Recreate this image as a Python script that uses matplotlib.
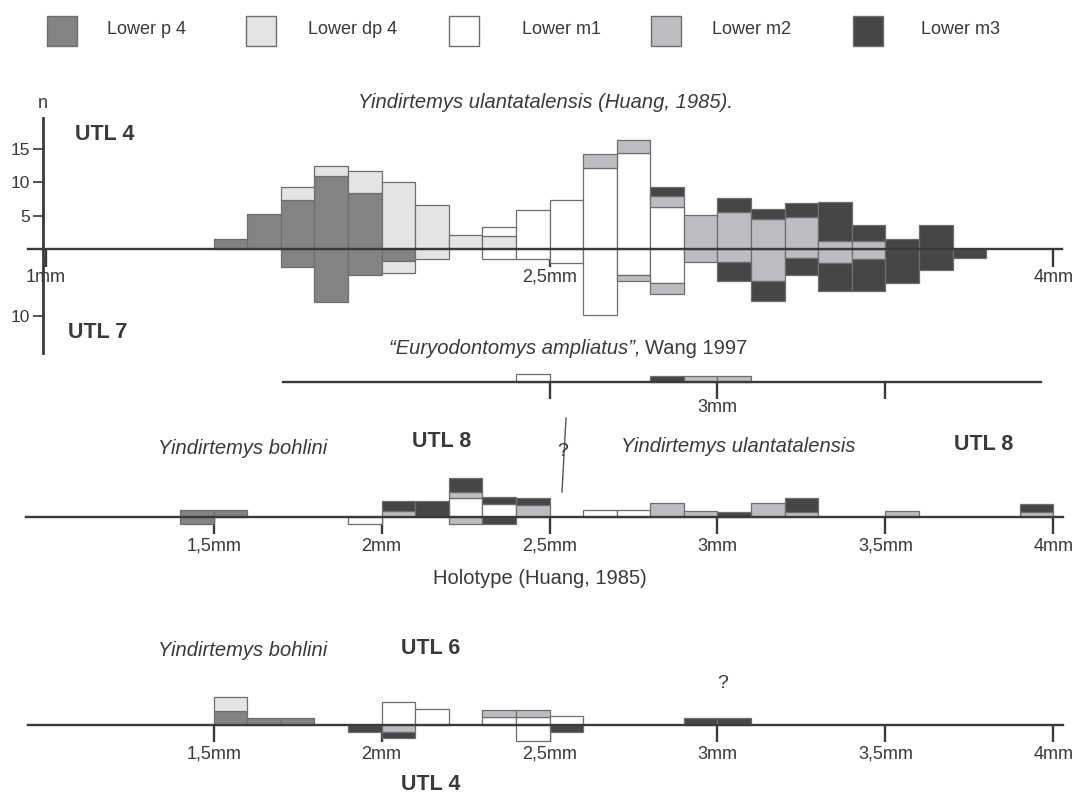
import matplotlib
matplotlib.use('Agg')
import matplotlib.pyplot as plt
from matplotlib.lines import Line2D

plt.rcParams['font.family'] = ['Liberation Sans', 'DejaVu Sans']

#---------------------DATA------------------------
teeth = ['Lower p 4', 'Lower dp 4', 'Lower m1', 'Lower m2', 'Lower m3']
tooth_colors = ['#838385', '#e3e4e6', '#ffffff', '#bcbdc0', '#464648']

# Y. ulantatalensis, UTL 4 (up) and UTL 7 (down), left edge of 0.1 mm classes
bins_a = [1.5, 1.6, 1.7, 1.8, 1.9, 2.0, 2.1, 2.2, 2.3, 2.4, 2.5, 2.6,
          2.7, 2.8, 2.9, 3.0, 3.1, 3.2, 3.3, 3.4, 3.5, 3.6, 3.7]
utl4_p4 = [1.6, 5.3, 7.4, 11.0, 8.4, 0, 0, 0, 0, 0, 0, 0, 0, 0, 0, 0, 0, 0, 0, 0, 0, 0, 0]
utl4_dp4 = [0, 0, 1.9, 1.4, 3.3, 10.0, 6.6, 2.1, 2.0, 0, 0, 0, 0, 0, 0, 0, 0, 0, 0, 0, 0, 0, 0]
utl4_m1 = [0, 0, 0, 0, 0, 0, 0, 0, 1.4, 5.9, 7.4, 12.2, 14.4, 6.3, 0, 0, 0, 0, 0, 0, 0, 0, 0]
utl4_m2 = [0, 0, 0, 0, 0, 0, 0, 0, 0, 0, 0, 2.0, 1.9, 1.6, 5.1, 5.5, 4.5, 4.8, 1.2, 1.2, 0, 0, 0]
utl4_m3 = [0, 0, 0, 0, 0, 0, 0, 0, 0, 0, 0, 0, 0, 1.4, 0, 2.1, 1.5, 2.1, 5.8, 2.5, 1.5, 3.7, 0]

utl7_p4 = [0, 0, 2.6, 7.8, 3.8, 1.75, 0, 0, 0, 0, 0, 0, 0, 0, 0, 0, 0, 0, 0, 0, 0, 0, 0]
utl7_dp4 = [0, 0, 0, 0, 0, 1.85, 1.5, 0, 0, 0, 0, 0, 0, 0, 0, 0, 0, 0, 0, 0, 0, 0, 0]
utl7_m1 = [0, 0, 0, 0, 0, 0, 0, 0, 1.5, 1.5, 2.0, 9.8, 3.8, 5.0, 0, 0, 0, 0, 0, 0, 0, 0, 0]
utl7_m2 = [0, 0, 0, 0, 0, 0, 0, 0, 0, 0, 0, 0, 1.0, 1.7, 1.85, 1.85, 4.8, 1.35, 2.0, 1.45, 0, 0, 0]
utl7_m3 = [0, 0, 0, 0, 0, 0, 0, 0, 0, 0, 0, 0, 0, 0, 0, 2.95, 2.9, 2.45, 4.2, 4.75, 5.1, 3.1, 1.25]

# "Euryodontomys ampliatus", Wang 1997
bins_b = [2.4, 2.8, 2.9, 3.0]
wang_p4 = [0, 0, 0, 0]
wang_dp4 = [0, 0, 0, 0]
wang_m1 = [1.1, 0, 0, 0]
wang_m2 = [0, 0, 0.8, 0.8]
wang_m3 = [0, 0.8, 0, 0]

# UTL 8 (up) and holotype side (down)
bins_c = [1.4, 1.5, 1.9, 2.0, 2.1, 2.2, 2.3, 2.4, 2.6, 2.7, 2.8, 2.9, 3.0, 3.1, 3.2, 3.5, 3.9]
utl8_p4 = [1, 1, 0, 0, 0, 0, 0, 0, 0, 0, 0, 0, 0, 0, 0, 0, 0]
utl8_dp4 = [0, 0, 0, 0, 0, 0, 0, 0, 0, 0, 0, 0, 0, 0, 0, 0, 0]
utl8_m1 = [0, 0, 0, 0, 0, 2.6, 1.8, 0, 1.0, 1.0, 0, 0, 0, 0, 0, 0, 0]
utl8_m2 = [0, 0, 0, 0.8, 0, 0.8, 0, 1.6, 0, 0, 1.9, 0.8, 0, 1.9, 0.65, 0.8, 0.65]
utl8_m3 = [0, 0, 0, 1.3, 2.2, 1.9, 0.9, 1.0, 0, 0, 0, 0, 0.65, 0, 1.95, 0, 1.1]
holo_p4 = [1, 0, 0, 0, 0, 0, 0, 0, 0, 0, 0, 0, 0, 0, 0, 0, 0]
holo_dp4 = [0, 0, 0, 0, 0, 0, 0, 0, 0, 0, 0, 0, 0, 0, 0, 0, 0]
holo_m1 = [0, 0, 1.0, 0, 0, 0, 0, 0, 0, 0, 0, 0, 0, 0, 0, 0, 0]
holo_m2 = [0, 0, 0, 0, 0, 0.9, 0, 0, 0, 0, 0, 0, 0, 0, 0, 0, 0]
holo_m3 = [0, 0, 0, 0, 0, 0, 1.0, 0, 0, 0, 0, 0, 0, 0, 0, 0, 0]

# UTL 6 (up) and UTL 4 (down)
bins_d = [1.5, 1.6, 1.7, 1.9, 2.0, 2.1, 2.3, 2.4, 2.5, 2.9, 3.0]
utl6_p4 = [1.9, 1.0, 1.0, 0, 0, 0, 0, 0, 0, 0, 0]
utl6_dp4 = [1.9, 0, 0, 0, 0, 0, 0, 0, 0, 0, 0]
utl6_m1 = [0, 0, 0, 0, 3.1, 2.2, 1.1, 1.1, 1.2, 0, 0]
utl6_m2 = [0, 0, 0, 0, 0, 0, 0.9, 0.9, 0, 0, 0]
utl6_m3 = [0, 0, 0, 0, 0, 0, 0, 0, 0, 1.0, 1.0]
utl4b_p4 = [0, 0, 0, 0, 0, 0, 0, 0, 0, 0, 0]
utl4b_dp4 = [0, 0, 0, 0, 0, 0, 0, 0, 0, 0, 0]
utl4b_m1 = [0, 0, 0, 0, 0, 0, 0, 2.1, 0, 0, 0]
utl4b_m2 = [0, 0, 0, 0, 1.0, 0, 0, 0, 0, 0, 0]
utl4b_m3 = [0, 0, 0, 1.0, 0.8, 0, 0, 0, 1.0, 0, 0]
#-------------------------------------------------

W, H = 1083, 796
TXT = '#3a3a3a'
LINE = '#3a3a3a'
EDGE = '#6e6e6e'
# px position of 1mm and px per mm (same scale in all panels)
PX1, PXMM = 45.7, 335.9


def px2mm(x):
    return 1 + (x - PX1) / PXMM


fig = plt.figure(figsize=(W / 100, H / 100), dpi=100)


def panel(top, bottom, base, unit, xa, xb):
    ax = fig.add_axes([0, 1 - bottom / H, 1, (bottom - top) / H])
    ax.set_xlim(px2mm(0), px2mm(W))
    ax.set_ylim(-(bottom - base) / unit, (base - top) / unit)
    ax.patch.set_visible(False)
    for s in ['top', 'right', 'left']:
        ax.spines[s].set_visible(False)
    ax.spines['bottom'].set_position(('data', 0))
    ax.spines['bottom'].set_bounds(px2mm(xa), px2mm(xb))
    ax.spines['bottom'].set_linewidth(1.7)
    ax.spines['bottom'].set_color(LINE)
    ax.spines['bottom'].set_zorder(5)
    ax.set_yticks([])
    ax.tick_params(axis='x', direction='out', length=12, width=1.7, color=LINE,
                   labelsize=13, labelcolor=TXT, pad=3)
    return ax


def stack(ax, bins, series, sign):
    acc = [0.0] * len(bins)
    for vals, c in zip(series, tooth_colors):
        xs = [b for b, v in zip(bins, vals) if v > 0]
        hs = [sign * v for v in vals if v > 0]
        bs = [sign * a for a, v in zip(acc, vals) if v > 0]
        if xs:
            ax.bar(xs, hs, width=0.1, bottom=bs, align='edge', color=c,
                   edgecolor=EDGE, linewidth=0.9, zorder=2)
        acc = [a + v for a, v in zip(acc, vals)]


def ftext(x, y, s, **kw):
    kw.setdefault('color', TXT)
    kw.setdefault('ha', 'center')
    kw.setdefault('va', 'center')
    fig.text(x / W, 1 - y / H, s, **kw)


# ---- legend ----
lax = fig.add_axes([0, 1 - 70 / H, 1, 70 / H])
lax.set_xlim(0, W)
lax.set_ylim(70, 0)
lax.axis('off')
swatch_x = [47, 246, 449, 651, 853]
label_x = [107, 308, 522, 712, 921]
for sx, lx, name, c in zip(swatch_x, label_x, teeth, tooth_colors):
    lax.bar(sx, 30, width=30, bottom=16, align='edge', color=c,
            edgecolor=EDGE, linewidth=1.0)
    lax.text(lx, 30, name, ha='left', va='center', fontsize=13, color=TXT)

# ---- panel 1 : UTL 4 / UTL 7 ----
ax1 = panel(90, 362, 249.3, 6.7, 28, 1062)
stack(ax1, bins_a, [utl4_p4, utl4_dp4, utl4_m1, utl4_m2, utl4_m3], 1)
stack(ax1, bins_a, [utl7_p4, utl7_dp4, utl7_m1, utl7_m2, utl7_m3], -1)
ax1.set_xticks([1, 2.5, 4], ['1mm', '2,5mm', '4mm'])
ax1.tick_params(axis='x', length=13, pad=1)
ax1.spines['left'].set_visible(True)
ax1.spines['left'].set_position(('data', px2mm(43)))
ax1.spines['left'].set_bounds((249.3 - 353) / 6.7, (249.3 - 118) / 6.7)
ax1.spines['left'].set_linewidth(2.0)
ax1.spines['left'].set_color(LINE)
ax1.set_yticks([15, 10, 5, -10], ['15', '10', '5', '10'])
ax1.tick_params(axis='y', direction='out', length=7, width=1.2, color=LINE,
                labelsize=12.5, labelcolor=TXT, pad=2)
ftext(43, 103, 'n', fontsize=13)
ftext(75, 135, 'UTL 4', fontsize=15.5, fontweight='bold', ha='left')
ftext(68, 333, 'UTL 7', fontsize=15.5, fontweight='bold', ha='left')
ftext(545, 103, 'Yindirtemys ulantatalensis (Huang, 1985).', fontsize=14.5, style='italic')

# ---- panel 2 : Wang 1997 ----
ax2 = panel(360, 420, 382, 7.0, 283, 1041)
stack(ax2, bins_b, [wang_p4, wang_dp4, wang_m1, wang_m2, wang_m3], 1)
ax2.set_xticks([2.5, 3, 3.5], ['', '3mm', ''])
ax2.tick_params(axis='x', length=12, pad=0)
ftext(641, 349, '\u201cEuryodontomys ampliatus\u201d,', fontsize=14.5, style='italic', ha='right')
ftext(645, 349, 'Wang 1997', fontsize=14.5, ha='left')

# ---- panel 3 : UTL 8 ----
ax3 = panel(470, 560, 517, 7.4, 26, 1063)
stack(ax3, bins_c, [utl8_p4, utl8_dp4, utl8_m1, utl8_m2, utl8_m3], 1)
stack(ax3, bins_c, [holo_p4, holo_dp4, holo_m1, holo_m2, holo_m3], -1)
ax3.set_xticks([1.5, 2, 2.5, 3, 3.5, 4], ['1,5mm', '2mm', '2,5mm', '3mm', '3,5mm', '4mm'])
ftext(243, 448, 'Yindirtemys bohlini', fontsize=14.5, style='italic')
ftext(442, 441, 'UTL 8', fontsize=15.5, fontweight='bold')
ftext(738, 447, 'Yindirtemys ulantatalensis', fontsize=14.5, style='italic')
ftext(984, 444, 'UTL 8', fontsize=15.5, fontweight='bold')
ftext(563, 451, '?', fontsize=14)
fig.add_artist(Line2D([566 / W, 562 / W], [1 - 418 / H, 1 - 492 / H],
                      transform=fig.transFigure, color='#555555', linewidth=1.0))
ftext(540, 578, 'Holotype (Huang, 1985)', fontsize=14.5)

# ---- panel 4 : UTL 6 / UTL 4 ----
ax4 = panel(670, 775, 725, 7.4, 28, 1063)
stack(ax4, bins_d, [utl6_p4, utl6_dp4, utl6_m1, utl6_m2, utl6_m3], 1)
stack(ax4, bins_d, [utl4b_p4, utl4b_dp4, utl4b_m1, utl4b_m2, utl4b_m3], -1)
ax4.set_xticks([1.5, 2, 2.5, 3, 3.5, 4], ['1,5mm', '2mm', '2,5mm', '3mm', '3,5mm', '4mm'])
ftext(243, 650, 'Yindirtemys bohlini', fontsize=14.5, style='italic')
ftext(431, 649, 'UTL 6', fontsize=15.5, fontweight='bold')
ftext(723, 684, '?', fontsize=14)
ftext(431, 785, 'UTL 4', fontsize=15.5, fontweight='bold')

fig.savefig('out.png', dpi=100)
